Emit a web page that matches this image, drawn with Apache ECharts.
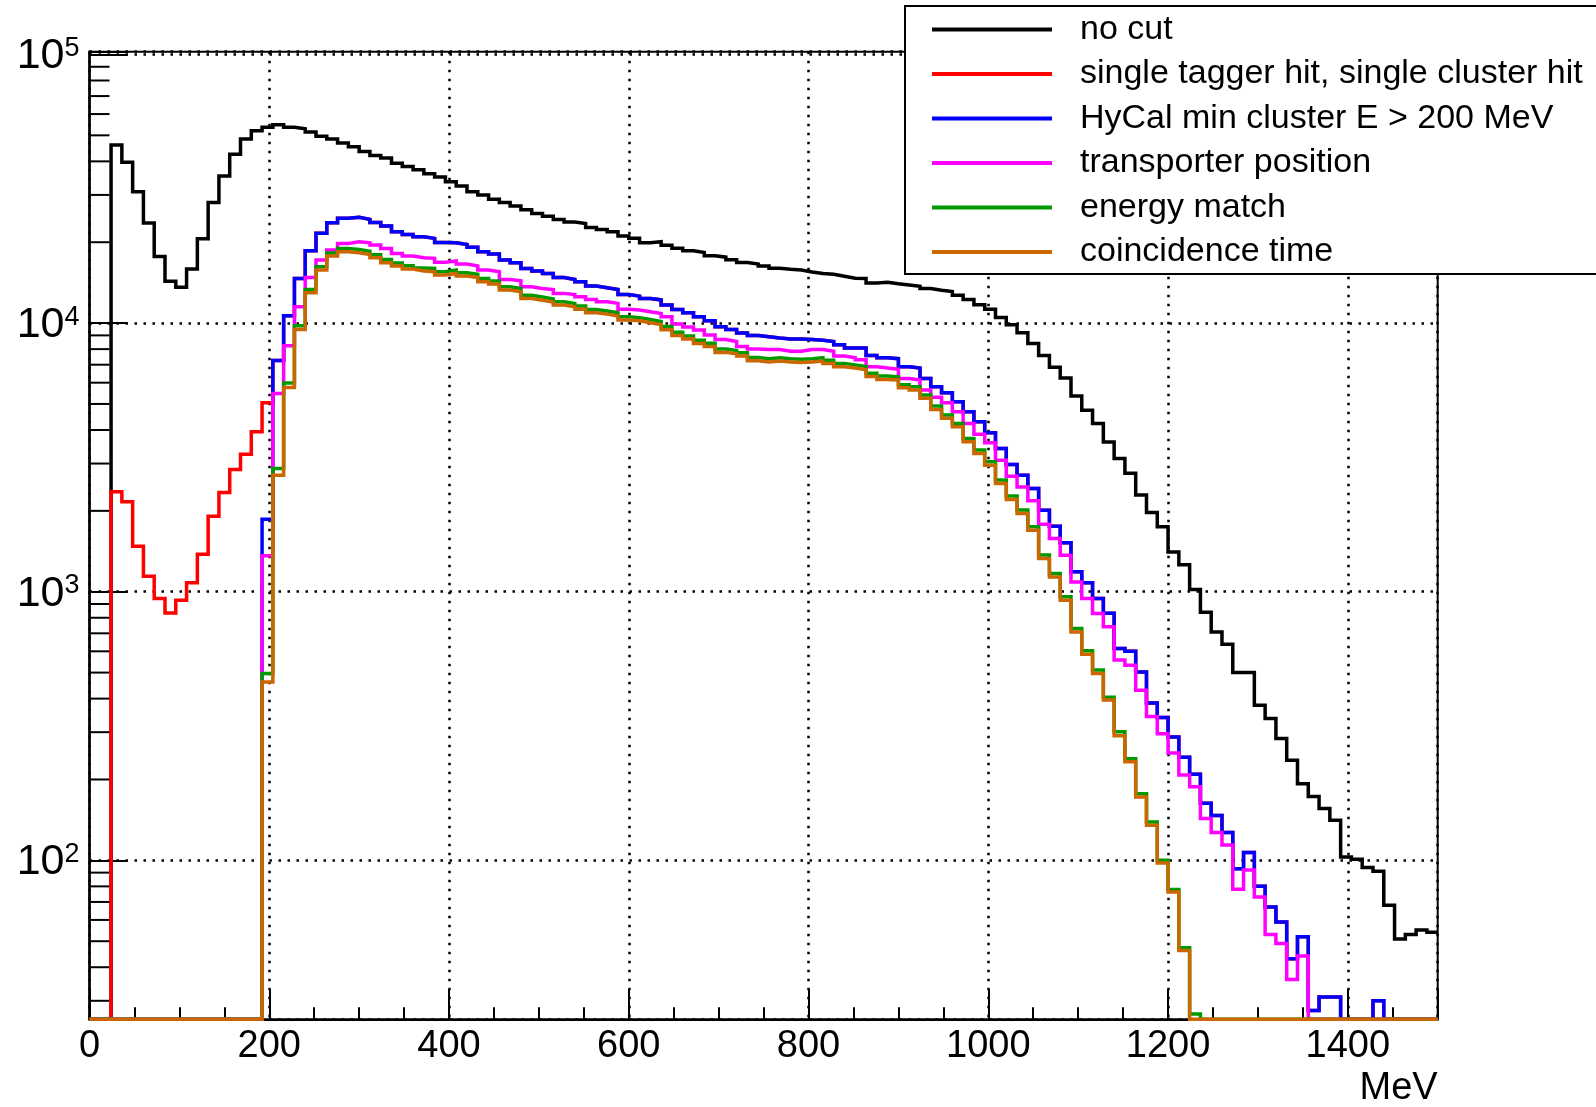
<!DOCTYPE html>
<html><head><meta charset="utf-8">
<script src="https://cdn.jsdelivr.net/npm/echarts@6/dist/echarts.min.js"></script>
<style>html,body{margin:0;padding:0;background:#fff}#c{width:1596px;height:1107px}</style>
</head><body><div id="c"></div>
<script>
// ---- data (12 MeV bins, 0..1500 MeV) ----
const BIN = 12;
const N_BINS = 125;
const Y_MIN = 25.6, Y_MAX = 102400;
const xTickLabels = [0, 200, 400, 600, 800, 1000, 1200, 1400];
const seriesNames = ['no cut', 'single tagger hit, single cluster hit', 'HyCal min cluster E > 200 MeV', 'transporter position', 'energy match', 'coincidence time'];

const noCut = [0,0,
46000,39700,30800,23600,17700,14300,13600,15900,
20600,28100,35300,42500,48500,52000,53600,54700,53600,52900,
51400,49600,48400,46800,45300,43500,42100,41200,39400,38300,
37200,36000,35000,33600,32400,30800,30000,28900,28100,27300,
26400,25600,25000,24300,23800,23500,22700,22300,21900,21100,
20700,19900,20100,19500,19000,18600,18300,17800,17600,17200,
16800,16600,16300,16000,15850,15750,15500,15300,15200,14950,
14700,14650,14100,14200,14000,13850,13700,13450,13250,13100,
12700,12250,11700,11250,10500,9850,9200,8400,7580,6850,
6250,5350,4740,4230,3610,3130,2760,2290,1970,1745,
1407,1260,1020,838,708,637,500,500,378,337,
284,236,193,173,156,141,103,101,94,91,
68,51,53,55,54];

// single tagger / single cluster: bins 0..16 (above 204 MeV it is hidden under the HyCal-cut curve)
const singleHitLow = [0,0,2354,2160,1477,1142,944,834,930,1079,1379,1911,2342,2851,3251,3937,5050];

const hycalCut = [0,0,0,0,0,0,0,0,0,0,
0,0,0,0,0,0,1860,7250,10650,14670,
18600,21600,23640,24540,24750,24330,23710,22970,21880,21390,
20960,20670,19970,19910,19630,19140,18430,18070,17160,16780,
15980,15620,15310,14790,14540,14250,13740,13530,13340,12780,
12600,12350,12200,11670,11230,10930,10560,10200,9690,9475,
9180,8990,8890,8800,8730,8730,8680,8630,8540,8310,
8080,8080,7580,7430,7370,6880,6800,6220,5800,5500,
5093,4673,4289,3903,3414,2977,2716,2423,2011,1754,
1520,1186,1079,944,832,614,600,503,385,340,
288,242,209,163,147,127,93,107,80,67,
59,43,52,27.6,31,31,0,0,0,30,
0,0,0,0,0];

const transporter = [0,0,0,0,0,0,0,0,0,0,
0,0,0,0,0,0,1360,5470,8230,11500,
14790,17160,18710,19800,20080,19910,19520,18970,18170,17770,
17500,17420,16830,17020,16590,16310,15760,15530,14540,14370,
13650,13460,13340,12900,12780,12530,12250,12010,11840,11250,
11180,11020,10860,10550,9930,9670,9420,9020,8680,8540,
8190,8010,7970,7970,7850,7850,7970,7970,7850,7540,
7430,7300,6880,6800,6730,6220,6140,5630,5300,5050,
4673,4230,3859,3583,3088,2692,2456,2179,1784,1578,
1368,1088,944,830,740,557,532,430,343,296,
251,208,188,143,127,114,78,92,73,53,
49,36,44,0,0,0,0,0,0,0,
0,0,0,0,0];

const energyMatch = [0,0,0,0,0,0,0,0,0,0,
0,0,0,0,0,0,496,2875,5990,9770,
13350,16200,18250,18950,18800,18500,17980,17250,16750,16350,
16050,15980,15520,15750,15380,15200,14650,14350,13650,13450,
12700,12500,12300,12000,11820,11580,11230,11100,10920,10550,
10480,10310,10150,9720,9250,8960,8640,8420,8000,7900,
7750,7450,7370,7430,7370,7330,7370,7430,7270,7080,
6990,6890,6510,6350,6310,5900,5790,5400,4910,4550,
4230,3720,3370,3045,2605,2270,2015,1745,1370,1170,
958,730,603,511,405,301,239,177,139,100,
77.8,47.3,26.8,0,0,0,0,0,0,0,
0,0,0,0,0,0,0,0,0,0,
0,0,0,0,0];

const coincidence = [0,0,0,0,0,0,0,0,0,0,
0,0,0,0,0,0,461,2716,5760,9475,
12970,15760,17770,18430,18270,18010,17500,16780,16310,15890,
15620,15530,15090,15310,14960,14790,14250,13970,13270,13080,
12350,12170,11970,11670,11500,11270,10930,10800,10620,10260,
10200,10030,9870,9450,9000,8720,8400,8190,7780,7680,
7540,7240,7170,7220,7170,7130,7170,7220,7070,6880,
6800,6700,6330,6170,6140,5740,5630,5250,4770,4420,
4110,3614,3271,2958,2529,2204,1955,1694,1329,1135,
930,708,585,496,395,291,233,172,135,97.7,
76.2,46.2,0,0,0,0,0,0,0,0,
0,0,0,0,0,0,0,0,0,0,
0,0,0,0,0];

const singleHit = singleHitLow.concat(hycalCut.slice(singleHitLow.length));

// ---- styling ----
const FONT = '"Liberation Sans", Arial, Helvetica, sans-serif';
const colors = ['#000000', '#ff0000', '#0000ff', '#ff00ff', '#009900', '#cc6600'];
const allData = [noCut, singleHit, hycalCut, transporter, energyMatch, coincidence];

function histPoints(vals) {
  const pts = vals.map((v, i) => [i * BIN, v > 0 ? v : Y_MIN]);
  const last = vals[vals.length - 1];
  pts.push([N_BINS * BIN, last > 0 ? last : Y_MIN]);
  return pts;
}

const yMinorTicks = [];
for (let e = 1; e <= 4; e++) for (let k = 2; k <= 9; k++) {
  const v = k * Math.pow(10, e);
  if (v > Y_MIN && v < Y_MAX) yMinorTicks.push(v);
}

const chart = echarts.init(document.getElementById('c'), null, {renderer: 'canvas'});
const dotted = {color: '#000', width: 2.5, type: [2.5, 6.5]};

const series = allData.map((d, i) => ({
  name: seriesNames[i], type: 'line', step: 'end', symbol: 'none', showSymbol: false,
  data: histPoints(d), xAxisIndex: 0, yAxisIndex: 0,
  lineStyle: {color: colors[i], width: 3.5, cap: 'butt', join: 'miter'},
  itemStyle: {color: colors[i]}, z: 3, animation: false
}));

series.unshift({
  name: 'yminor', type: 'custom', silent: true, xAxisIndex: 0, yAxisIndex: 0, z: 2,
  data: yMinorTicks.map(v => [0, v]), encode: {x: 0, y: 1},
  renderItem: (params, api) => {
    const p = api.coord([0, api.value(1)]);
    return {type: 'line', shape: {x1: p[0], y1: p[1], x2: p[0] + 20, y2: p[1]},
            style: {stroke: '#000', lineWidth: 2}};
  }
});

const option = {
  animation: false,
  backgroundColor: '#ffffff',
  textStyle: {fontFamily: FONT},
  grid: {left: 89.5, top: 51.7, width: 1348.2, height: 967.6, show: true,
         borderColor: '#000', borderWidth: 2, backgroundColor: 'transparent',
         containLabel: false, outerBoundsMode: 'none'},
  legend: {
    data: seriesNames, orient: 'vertical', left: 905, top: 6,
    itemWidth: 120, itemHeight: 4, itemGap: 4.5, icon: 'rect',
    padding: [3.5, 80, 2, 27],
    borderColor: '#000', borderWidth: 2, backgroundColor: '#fff',
    textStyle: {fontSize: 34, lineHeight: 40, color: '#000', fontFamily: FONT, padding: [0, 0, 0, 23]},
    selectedMode: false
  },
  xAxis: [
    {type: 'value', min: 0, max: 1500, interval: 50, position: 'bottom',
     axisLine: {show: true, onZero: false, lineStyle: {color: '#000', width: 2}},
     axisTick: {show: true, inside: true, length: 12, lineStyle: {color: '#000', width: 2}},
     axisLabel: {formatter: v => xTickLabels.indexOf(v) >= 0 ? String(v) : '',
                 fontSize: 38, color: '#000', fontFamily: FONT, margin: 8, showMaxLabel: false},
     splitLine: {show: false},
     name: 'MeV', nameLocation: 'end', nameGap: 0,
     nameTextStyle: {fontSize: 38, color: '#000', fontFamily: FONT, align: 'right', verticalAlign: 'top', padding: [50, 0, 0, 0]}},
    {type: 'value', min: 0, max: 1500, interval: 200, position: 'bottom',
     axisLine: {show: false, onZero: false},
     axisTick: {show: true, inside: true, length: 30, lineStyle: {color: '#000', width: 2}},
     axisLabel: {show: false},
     splitLine: {show: true, lineStyle: dotted}}
  ],
  yAxis: [{
    type: 'log', logBase: 10, min: Y_MIN, max: Y_MAX,
    axisLine: {show: true, onZero: false, lineStyle: {color: '#000', width: 2.5}},
    axisTick: {show: true, inside: true, length: 38, lineStyle: {color: '#000', width: 2}},
    axisLabel: {
      margin: 10, color: '#000', padding: [4, 0, 0, 0],
      formatter: v => {
        const e = Math.log10(v);
        if (Math.abs(e - Math.round(e)) > 1e-6) return '';
        return '{b|10}{s|' + Math.round(e) + '}';
      },
      rich: {b: {fontSize: 43, lineHeight: 43, fontFamily: FONT, color: '#000', verticalAlign: 'bottom'},
             s: {fontSize: 27, lineHeight: 27, fontFamily: FONT, color: '#000', verticalAlign: 'top', padding: [0, 0, 21, 0]}}
    },
    splitLine: {show: true, lineStyle: dotted}
  }],
  series: series
};
chart.setOption(option);
</script>
</body></html>
